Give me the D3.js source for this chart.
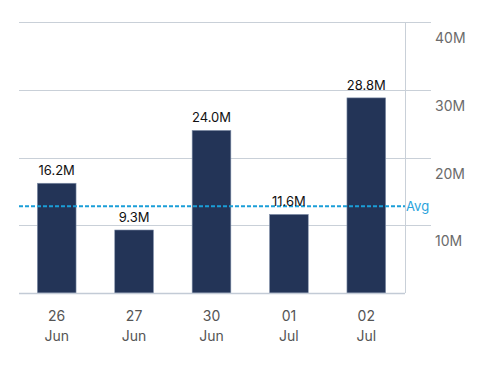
<!DOCTYPE html>
<html><head><meta charset="utf-8">
<script src="https://cdn.jsdelivr.net/npm/d3@7"></script>
<style>body{margin:0;background:#fff}svg{display:block}text{font-family:Inter,"Open Sans",sans-serif}</style>
</head><body><svg id="c" width="478" height="365"></svg>
<script>
const days = ["26","27","30","01","02"];
const months = ["Jun","Jun","Jun","Jul","Jul"];
const values = [16.2, 9.3, 24.0, 11.6, 28.8];
const valueLabels = ["16.2M","9.3M","24.0M","11.6M","28.8M"];
const yTicks = [10, 20, 30, 40];
const avgValue = 12.8;

const svg = d3.select("#c");
const mLeft = 19, plotRight = 405, gridRight = 431, mTop = 22, mBottom = 293;
const y = d3.scaleLinear().domain([0, 40]).range([mBottom, mTop]);
const x = d3.scaleBand().domain(d3.range(values.length)).range([18, 405]).paddingInner(0.5).paddingOuter(0.25);

// gridlines
svg.append("g").selectAll("line").data(yTicks).join("line")
  .attr("x1", mLeft).attr("x2", gridRight)
  .attr("y1", d => Math.round(y(d)) + 0.5).attr("y2", d => Math.round(y(d)) + 0.5)
  .attr("stroke", "#c9d0d8").attr("stroke-width", 1);

// y tick labels
svg.append("g").selectAll("text").data(yTicks).join("text")
  .attr("x", 435).attr("y", d => y(d) + 21)
  .attr("fill", "#6b6b6b").attr("font-size", 14)
  .text(d => d + "M");

// bars
svg.append("g").selectAll("rect").data(values).join("rect")
  .attr("x", (d, i) => x(i)).attr("width", x.bandwidth())
  .attr("y", d => y(d)).attr("height", d => mBottom - y(d))
  .attr("fill", "#233457").attr("stroke", "#8392ab").attr("stroke-width", 0.6);

// vertical right axis line
svg.append("line").attr("x1", plotRight + 0.5).attr("x2", plotRight + 0.5)
  .attr("y1", mTop).attr("y2", mBottom)
  .attr("stroke", "#c9d0d8").attr("stroke-width", 1);

// baseline
svg.append("line").attr("x1", mLeft).attr("x2", plotRight)
  .attr("y1", mBottom + 0.5).attr("y2", mBottom + 0.5)
  .attr("stroke", "#c3cbd6").attr("stroke-width", 1.5);

// avg line
svg.append("line").attr("x1", mLeft).attr("x2", plotRight)
  .attr("y1", y(avgValue)).attr("y2", y(avgValue))
  .attr("stroke", "#1b9ed8").attr("stroke-width", 2).attr("stroke-dasharray", "4,2");
svg.append("text").attr("x", 406).attr("y", y(avgValue) + 5)
  .attr("fill", "#2aa3dc").attr("font-size", 13).text("Avg");

// value labels
svg.append("g").selectAll("text").data(values).join("text")
  .attr("x", (d, i) => x(i) + x.bandwidth() / 2).attr("y", d => y(d) - 8)
  .attr("text-anchor", "middle").attr("fill", "#111").attr("font-size", 13)
  .text((d, i) => valueLabels[i]);

// x labels
const xl = svg.append("g").selectAll("g").data(days).join("g");
xl.append("text").attr("x", (d, i) => x(i) + x.bandwidth() / 2).attr("y", 321)
  .attr("text-anchor", "middle").attr("fill", "#555").attr("font-size", 14).text(d => d);
xl.append("text").attr("x", (d, i) => x(i) + x.bandwidth() / 2).attr("y", 341)
  .attr("text-anchor", "middle").attr("fill", "#555").attr("font-size", 14).text((d, i) => months[i]);
</script></body></html>
